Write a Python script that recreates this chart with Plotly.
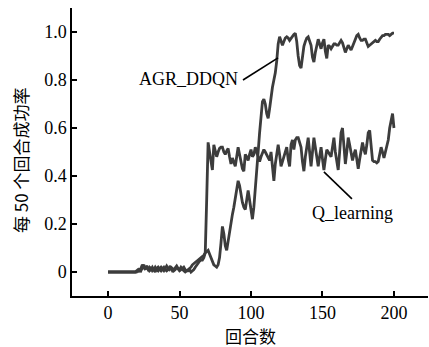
import plotly.graph_objects as go

episodes = list(range(0, 201))

agr_ddqn = [0.0] * 20 + [
    0.005, 0.01, 0.0, 0.015, 0.03, 0.02, 0.01, 0.025, 0.015, 0.005,   # 20-29
    0.01, 0.02, 0.01, 0.0, 0.015, 0.02, 0.01, 0.005, 0.015, 0.02,     # 30-39
    0.01, 0.005, 0.01, 0.02, 0.015, 0.005, 0.01, 0.02, 0.025, 0.015,  # 40-49
    0.01, 0.02, 0.01, 0.005, 0.0, 0.005, 0.01, 0.015, 0.02, 0.03,     # 50-59
    0.035, 0.04, 0.045, 0.05, 0.055, 0.06, 0.065, 0.07, 0.08, 0.085,  # 60-69
    0.09, 0.075, 0.06, 0.045, 0.03, 0.025, 0.02, 0.03, 0.06, 0.12,    # 70-79
    0.19, 0.16, 0.11, 0.09, 0.13, 0.175, 0.2, 0.24, 0.27, 0.31,       # 80-89
    0.35, 0.38, 0.36, 0.32, 0.29, 0.27, 0.26, 0.3, 0.34, 0.3,         # 90-99
    0.25, 0.22, 0.27, 0.34, 0.40, 0.5, 0.58, 0.65, 0.71, 0.72,        # 100-109
    0.70, 0.66, 0.64, 0.68, 0.73, 0.77, 0.80, 0.83, 0.88, 0.95,       # 110-119
    0.98, 0.96, 0.945, 0.96, 0.975, 0.98, 0.975, 0.965, 0.975, 0.985, # 120-129
    0.99, 0.995, 0.96, 0.90, 0.86, 0.85, 0.90, 0.94, 0.96, 0.975,     # 130-139
    0.98, 0.96, 0.945, 0.895, 0.875, 0.915, 0.95, 0.97, 0.95, 0.93,   # 140-149
    0.955, 0.97, 0.92, 0.89, 0.945, 0.94, 0.93, 0.94, 0.95, 0.95,     # 150-159
    0.945, 0.945, 0.955, 0.965, 0.955, 0.93, 0.915, 0.93, 0.945, 0.935,  # 160-169
    0.925, 0.94, 0.96, 0.97, 0.985, 0.99, 0.975, 0.965, 0.965, 0.97,  # 170-179
    0.97, 0.955, 0.94, 0.945, 0.95, 0.955, 0.96, 0.965, 0.96, 0.96,   # 180-189
    0.97, 0.98, 0.985, 0.985, 0.99, 0.99, 0.99, 0.985, 0.99, 0.995,   # 190-199
    0.995,                                                            # 200
]

q_learning = [0.0] * 20 + [
    0.0, 0.005, 0.01, 0.005, 0.02, 0.03, 0.015, 0.02, 0.01, 0.02,     # 20-29
    0.015, 0.005, 0.01, 0.02, 0.01, 0.005, 0.015, 0.02, 0.01, 0.005,  # 30-39
    0.015, 0.025, 0.015, 0.01, 0.02, 0.015, 0.005, 0.01, 0.02, 0.01,  # 40-49
    0.005, 0.01, 0.015, 0.02, 0.01, 0.005, 0.005, 0.01, 0.0, 0.005,   # 50-59
    0.01, 0.02, 0.03, 0.04, 0.045, 0.05, 0.05, 0.06, 0.08, 0.3,       # 60-69
    0.54, 0.50, 0.45, 0.425, 0.53, 0.50, 0.48, 0.50, 0.515, 0.52,     # 70-79
    0.52, 0.50, 0.49, 0.505, 0.515, 0.48, 0.45, 0.475, 0.46, 0.44,    # 80-89
    0.48, 0.52, 0.49, 0.45, 0.43, 0.42, 0.49, 0.48, 0.465, 0.49,      # 90-99
    0.51, 0.48, 0.49, 0.52, 0.50, 0.47, 0.46, 0.48, 0.50, 0.51,       # 100-109
    0.50, 0.49, 0.475, 0.465, 0.50, 0.45, 0.38, 0.45, 0.495, 0.53,    # 110-119
    0.49, 0.44, 0.46, 0.48, 0.50, 0.52, 0.47, 0.44, 0.53, 0.55,       # 120-129
    0.51, 0.55, 0.56, 0.56, 0.54, 0.52, 0.46, 0.42, 0.48, 0.53,       # 130-139
    0.56, 0.50, 0.44, 0.50, 0.56, 0.52, 0.47, 0.44, 0.48, 0.52,       # 140-149
    0.47, 0.425, 0.47, 0.51, 0.50, 0.49, 0.48, 0.52, 0.56, 0.50,      # 150-159
    0.45, 0.425, 0.50, 0.58, 0.60, 0.52, 0.45, 0.50, 0.56, 0.53,      # 160-169
    0.49, 0.465, 0.49, 0.51, 0.47, 0.43, 0.47, 0.51, 0.54, 0.51,      # 170-179
    0.49, 0.53, 0.58, 0.59, 0.52, 0.465, 0.46, 0.46, 0.455, 0.46,     # 180-189
    0.49, 0.52, 0.50, 0.475, 0.50, 0.53, 0.55, 0.60, 0.63, 0.66,      # 190-199
    0.60,                                                             # 200
]

x_tick_vals = [0, 50, 100, 150, 200]
x_tick_text = ["0", "50", "100", "150", "200"]
y_tick_vals = [0, 0.2, 0.4, 0.6, 0.8, 1.0, 1.1]
y_tick_text = ["0", "0.2", "0.4", "0.6", "0.8", "1.0", ""]

series_names = ["AGR_DDQN", "Q_learning"]
x_title = "回合数"
y_title = "每 50 个回合成功率"

FONT = "Liberation Serif"
CJK = "Noto Sans CJK SC"
LINE_COLOR = "#3c3c3c"

fig = go.Figure()
for name, ys in zip(series_names, [agr_ddqn, q_learning]):
    fig.add_trace(go.Scatter(
        x=episodes, y=ys, mode="lines", name=name,
        line=dict(color=LINE_COLOR, width=2.8),
    ))

# labels with leader lines
fig.add_annotation(x=56.6, y=0.805, text=series_names[0], showarrow=False,
                   font=dict(family=FONT, size=18, color="black"))
fig.add_shape(type="line", x0=94.4, y0=0.80, x1=118.9, y1=0.892,
              line=dict(color="black", width=1.6))
fig.add_annotation(x=171.3, y=0.245, text=series_names[1], showarrow=False,
                   font=dict(family=FONT, size=18, color="black"))
fig.add_shape(type="line", x0=151, y0=0.417, x1=170.6, y1=0.305,
              line=dict(color="black", width=1.6))

# axis titles
fig.add_annotation(xref="paper", yref="paper", x=-0.146, y=0.472, text=y_title,
                   textangle=-90, showarrow=False, xanchor="center", yanchor="middle",
                   borderpad=0,
                   font=dict(family=CJK, size=17, color="black"))
fig.add_annotation(xref="paper", yref="paper", x=0.5, y=-0.138, text=x_title,
                   showarrow=False, xanchor="center", yanchor="middle",
                   borderpad=0,
                   font=dict(family=CJK, size=17, color="black"))

axis_common = dict(
    showgrid=False, zeroline=False, showline=True, linecolor="black",
    linewidth=1.5, ticks="inside", ticklen=5, tickwidth=1.5, tickcolor="black",
    tickfont=dict(family=FONT, size=18, color="black"),
)

fig.update_layout(
    width=429, height=347,
    margin=dict(l=72, r=1, t=8, b=51),
    paper_bgcolor="white", plot_bgcolor="white",
    showlegend=False,
    font=dict(family=FONT),
    xaxis=dict(range=[-25.2, 223.8], tickvals=x_tick_vals, ticktext=x_tick_text,
               ticklabelstandoff=0, **axis_common),
    yaxis=dict(range=[-0.1, 1.1], tickvals=y_tick_vals, ticktext=y_tick_text,
               **axis_common),
)

fig.write_html("out.html")
